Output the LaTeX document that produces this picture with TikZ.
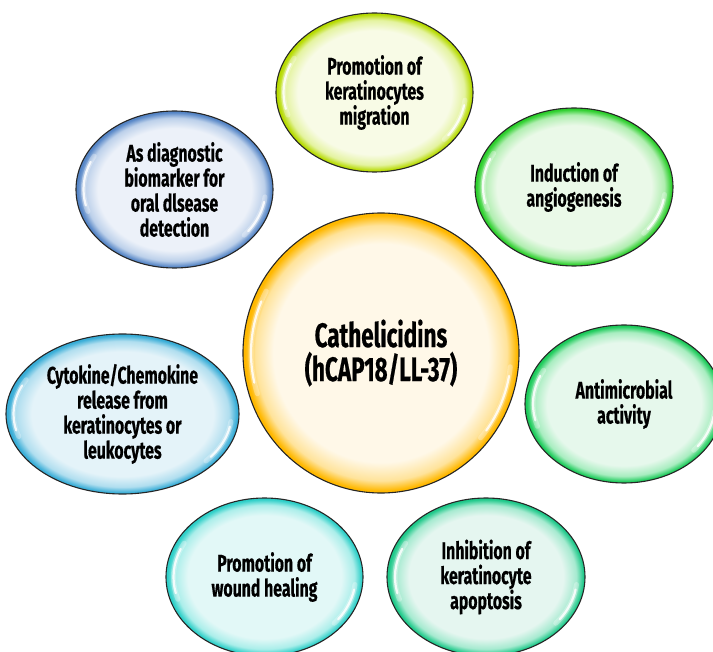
\documentclass[tikz,border=0pt]{standalone}
\usepackage{fontspec}
\newfontfamily\bubblefont{Fira Sans}[FakeStretch=0.66, BoldFeatures={FakeBold=0.5}]
\usetikzlibrary{shapes.geometric}

% colour schemes: inner tint, middle tone, rim
\definecolor{cenIn}{HTML}{FFF8E8}\definecolor{cenMid}{HTML}{FFE39A}\definecolor{cenRim}{HTML}{FFB800}
\definecolor{topIn}{HTML}{F8FBE6}\definecolor{topMid}{HTML}{E4F3A0}\definecolor{topRim}{HTML}{B6DA00}
\definecolor{angIn}{HTML}{EAF9E8}\definecolor{angMid}{HTML}{B0EEB0}\definecolor{angRim}{HTML}{2CCF2C}
\definecolor{antIn}{HTML}{E6F8EC}\definecolor{antMid}{HTML}{A8EDC0}\definecolor{antRim}{HTML}{1CCB5A}
\definecolor{inhIn}{HTML}{E5F6F0}\definecolor{inhMid}{HTML}{A6EAD0}\definecolor{inhRim}{HTML}{1FC98A}
\definecolor{wndIn}{HTML}{E2F8F7}\definecolor{wndMid}{HTML}{ABEEEA}\definecolor{wndRim}{HTML}{2ECFC8}
\definecolor{cytIn}{HTML}{E4F3F9}\definecolor{cytMid}{HTML}{B0DEEF}\definecolor{cytRim}{HTML}{38ADD7}
\definecolor{diaIn}{HTML}{ECF1F9}\definecolor{diaMid}{HTML}{BCD0EA}\definecolor{diaRim}{HTML}{5585C6}

% glossy bubble fill: pale centre, coloured rim (the path edge sits at 25bp)
\newcommand\bubbleshading[1]{%
  \pgfdeclareradialshading{sh#1}{\pgfpoint{0bp}{0bp}}{%
    color(0bp)=(#1In); color(19.5bp)=(#1In); color(22.8bp)=(#1Mid);
    color(24.6bp)=(#1Rim); color(25bp)=(#1Rim); color(50bp)=(#1Rim)}}
\bubbleshading{cen}\bubbleshading{top}\bubbleshading{ang}\bubbleshading{ant}
\bubbleshading{inh}\bubbleshading{wnd}\bubbleshading{cyt}\bubbleshading{dia}

\tikzset{
  bubble/.style={ellipse, shade, shading=sh#1, draw=black!85, line width=1.1pt,
    inner sep=0pt, align=center, text=black,
    font=\bubblefont\bfseries\fontsize{24}{25}\selectfont},
  gleamsoft/.style={white, line width=5pt, line cap=round, opacity=0.3},
  gleamline/.style={white, line width=2.2pt, line cap=round, opacity=0.85},
}

% white highlights along the left and right inner edge of a bubble
\newcommand\gleam[3]{%
  \draw[gleamsoft] ([shift={(152:#2 and #3)}]#1.center)
    arc[start angle=152, end angle=198, x radius=#2, y radius=#3];
  \draw[gleamline] ([shift={(157:#2 and #3)}]#1.center)
    arc[start angle=157, end angle=193, x radius=#2, y radius=#3];
  \draw[gleamsoft] ([shift={(-6:#2 and #3)}]#1.center)
    arc[start angle=-6, end angle=-40, x radius=#2, y radius=#3];
  \draw[gleamline] ([shift={(-10:#2 and #3)}]#1.center)
    arc[start angle=-10, end angle=-36, x radius=#2, y radius=#3];
}

\begin{document}
\begin{tikzpicture}[x=1pt, y=-1pt]
  \fill[white] (0,0) rectangle (713,652);
  \useasboundingbox (0,0) rectangle (713,652);

  \node[bubble=cen, minimum width=276pt, minimum height=280pt,
        font=\bubblefont\bfseries\fontsize{34}{34}\selectfont]
    (cath) at (381,353) {Cathelicidins\\(hCAP18/LL-37)};
  \gleam{cath}{130pt}{132pt}

  \node[bubble=top, minimum width=197pt, minimum height=159pt]
    (migr) at (374.5,92.5) {Promotion of\\keratinocytes\\migration};
  \gleam{migr}{91pt}{73pt}

  \node[bubble=ang, minimum width=198pt, minimum height=158pt]
    (angio) at (574,187) {Induction of\\angiogenesis};
  \gleam{angio}{91pt}{72pt}

  \node[bubble=ant, minimum width=198pt, minimum height=158pt]
    (micro) at (624,404) {Antimicrobial\\activity};
  \gleam{micro}{91pt}{72pt}

  \node[bubble=inh, minimum width=198pt, minimum height=158pt]
    (apopt) at (486,577) {Inhibition of\\keratinocyte\\apoptosis};
  \gleam{apopt}{91pt}{72pt}

  \node[bubble=wnd, minimum width=197pt, minimum height=158pt]
    (wound) at (264.5,577) {Promotion of\\wound healing};
  \gleam{wound}{91pt}{72pt}

  \node[bubble=cyt, minimum width=233pt, minimum height=160pt]
    (cyto) at (122.5,414) {Cytokine/Chemokine\\release from\\keratinocytes or\\leukocytes};
  \gleam{cyto}{109pt}{73pt}

  \node[bubble=dia, minimum width=197pt, minimum height=157pt]
    (diag) at (174.5,189.5) {As diagnostic\\biomarker for\\oral dlsease\\detection};
  \gleam{diag}{91pt}{71pt}
\end{tikzpicture}
\end{document}
